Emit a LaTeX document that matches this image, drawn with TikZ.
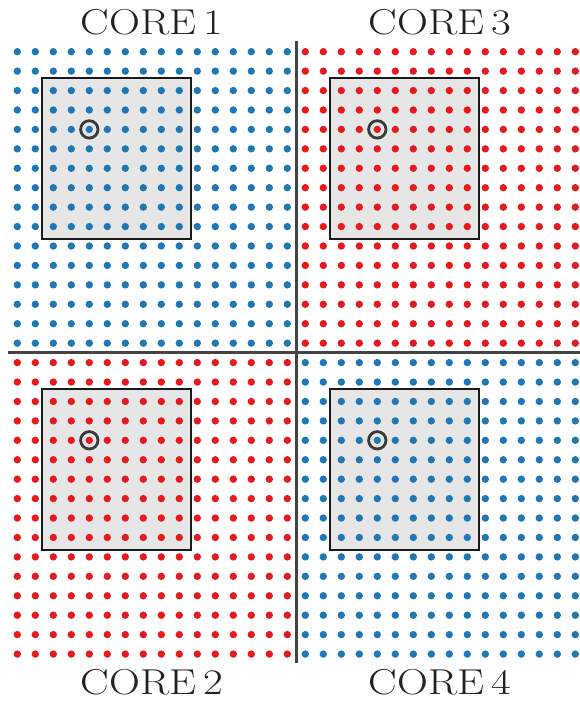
\documentclass[tikz,border=0pt]{standalone}
\definecolor{dotblue}{HTML}{1F77B4}
\definecolor{dotred}{HTML}{E41A1C}
\definecolor{divider}{HTML}{444444}
\definecolor{boxfill}{HTML}{E6E6E6}
\definecolor{boxedge}{HTML}{1A1A1A}
\definecolor{ringgray}{HTML}{3A3A3A}
\tikzset{
  corelabel/.style={anchor=base, inner sep=0pt, font=\fontsize{36}{42}\selectfont, text=black!87, xscale=1.19},
  corebox/.style={fill=boxfill, draw=boxedge, line width=2pt},
  ring/.style={draw=ringgray, line width=2.8pt},
  divline/.style={draw=divider, line width=3.2pt}
}
\begin{document}
\begin{tikzpicture}[x=1pt,y=-1pt]
\useasboundingbox (0,0) rectangle (580,701);
% quadrant: offset x, offset y, colour, name
\foreach \ox/\oy/\col/\nm in {0/0/dotblue/q1, 288/0/dotred/q3, 0/310.9/dotred/q2, 288/310.9/dotblue/q4}{
  \begin{scope}[shift={(\ox,\oy)}]
    \path[corebox] (41.6,77.9) rectangle (191,239.1);
    \foreach \c in {0,...,15}{
      \foreach \r in {0,...,15}{
        \fill[\col] ({17.3+18*\c},{51.7+19.43*\r}) circle (3.7);
      }
    }
    \coordinate (\nm-mark) at (89.3,129.4);
    \path[ring] (\nm-mark) circle (8.7);
  \end{scope}
}
\coordinate (vtop) at (296.3,41.5);
\coordinate (vbot) at (296.3,662.7);
\coordinate (hleft) at (8.3,352.7);
\coordinate (hright) at (580,352.7);
\draw[divline] (vtop) -- (vbot);
\draw[divline] (hleft) -- (hright);
\node[corelabel] (core1) at (152,35) {CORE\,1};
\node[corelabel] (core3) at (440,35) {CORE\,3};
\node[corelabel] (core2) at (152,694) {CORE\,2};
\node[corelabel] (core4) at (440,694) {CORE\,4};
\end{tikzpicture}
\end{document}
